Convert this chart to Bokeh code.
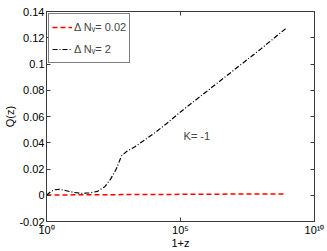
from bokeh.plotting import figure
from bokeh.models import LinearAxis, LogAxis, FixedTicker, Legend, LegendItem, Label, Range1d
from bokeh.embed import file_html
from bokeh.resources import INLINE

# ---- data ----
one_plus_z = [1, 1.5, 2, 3, 5, 10, 20, 40, 80, 150, 250, 400, 630, 1000, 2000,
              1e4, 3e4, 1e5, 1e6, 1e7, 1e8, 9e8]
q_dn2 = [0.0, 0.003, 0.0042, 0.0045, 0.0036, 0.0022, 0.0015, 0.0017, 0.003, 0.0065,
         0.0125, 0.020, 0.030, 0.0335, 0.037, 0.047, 0.0545, 0.0635, 0.0795, 0.0955,
         0.1115, 0.1275]
q_dn002 = [0.0002, 0.0002, 0.0002, 0.0002, 0.0002, 0.0003, 0.0003, 0.0003, 0.0003, 0.0004,
           0.0004, 0.0004, 0.0005, 0.0005, 0.0005, 0.0006, 0.0006, 0.0007, 0.0008, 0.0009,
           0.0009, 0.001]
y_ticks = [-0.02, 0, 0.02, 0.04, 0.06, 0.08, 0.1, 0.12, 0.14]
y_tick_labels = ["-0.02", "0", "0.02", "0.04", "0.06", "0.08", "0.1", "0.12", "0.14"]
x_ticks = [1, 1e5, 1e10]
x_tick_labels = ["10\u2070", "10\u2075", "10\u00b9\u2070"]
legend_labels = ["\u0394 N\u1d65= 0.02", "\u0394 N\u1d65= 2"]
annotation = "K= -1"

FONT = "Liberation Sans"
AX = "#3a3a3a"

p = figure(width=327, height=251, x_axis_type="log",
           x_range=Range1d(1, 1e10), y_range=Range1d(-0.02, 0.14),
           output_backend="svg", toolbar_location=None,
           min_border_left=46, min_border_right=13, min_border_top=11, min_border_bottom=30)
p.grid.visible = False
p.outline_line_color = AX
p.outline_line_width = 1

r1 = p.line(one_plus_z, q_dn002, line_color="#ff0000", line_dash="5 3", line_width=1.5)
r2 = p.line(one_plus_z, q_dn2, line_color="black", line_dash="5 2 1 2", line_width=1.2)

xa = p.xaxis[0]
xa.ticker = FixedTicker(ticks=x_ticks, minor_ticks=[])
xa.major_label_overrides = {t: l for t, l in zip(x_ticks, x_tick_labels)}
xa.axis_label = "1+z"
ya = p.yaxis[0]
ya.ticker = FixedTicker(ticks=y_ticks, minor_ticks=[])
ya.major_label_overrides = {t: l for t, l in zip(y_ticks, y_tick_labels)}
ya.axis_label = "Q(z)"

for ax in (xa, ya):
    ax.axis_line_color = AX
    ax.major_tick_line_color = AX
    ax.major_tick_in = 4
    ax.major_tick_out = 0
    ax.minor_tick_line_color = None
    ax.major_label_text_font = FONT
    ax.major_label_text_font_size = "11px"
    ax.major_label_text_color = "black"
    ax.axis_label_text_font = FONT
    ax.axis_label_text_font_size = "11px"
    ax.axis_label_text_font_style = "normal"
    ax.axis_label_text_color = "black"
xa.major_label_standoff = 2
xa.axis_label_standoff = -2
ya.major_label_standoff = 2
ya.axis_label_standoff = 0

top = LogAxis(ticker=FixedTicker(ticks=x_ticks, minor_ticks=[]))
right = LinearAxis(ticker=FixedTicker(ticks=y_ticks, minor_ticks=[]))
for ax in (top, right):
    ax.axis_line_color = AX
    ax.major_tick_line_color = AX
    ax.major_tick_in = 4
    ax.major_tick_out = 0
    ax.minor_tick_line_color = None
    ax.major_label_text_alpha = 0
    ax.major_label_text_font_size = "2px"
    ax.major_label_standoff = 0
p.add_layout(top, "above")
p.add_layout(right, "right")

legend = Legend(items=[LegendItem(label=legend_labels[0], renderers=[r1]),
                       LegendItem(label=legend_labels[1], renderers=[r2])],
                location="top_left", margin=2, padding=3, spacing=2,
                glyph_width=20, glyph_height=20, label_height=20, label_standoff=2,
                label_text_font=FONT, label_text_font_size="11px",
                border_line_color="black", border_line_width=1,
                background_fill_color="white", background_fill_alpha=1)
p.add_layout(legend)

p.add_layout(Label(x=1.3e5, y=0.045, text=annotation, text_font=FONT,
                   text_font_size="11px", text_baseline="middle", text_align="left"))

open("out.html", "w").write(file_html(p, INLINE))
